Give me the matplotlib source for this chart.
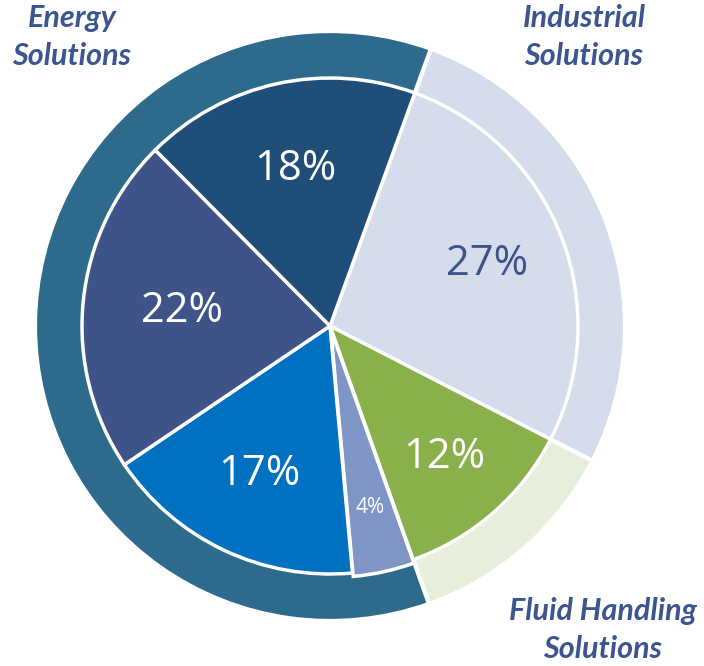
import numpy as np
import matplotlib.pyplot as plt

# inner pie: segment shares (%), clockwise from the top-right
inner_labels = ["27%", "12%", "4%", "17%", "22%", "18%"]
inner_values = [27, 12, 4, 17, 22, 18]
inner_colors = ["#D5DCEC", "#8AB04B", "#7F95C5", "#0070C0", "#3E5388", "#1F4E79"]
inner_text_colors = ["#3E5388", "white", "white", "white", "white", "white"]

# outer ring: business groups
outer_names = ["Industrial\nSolutions", "Fluid Handling\nSolutions", "Energy\nSolutions"]
outer_values = [27, 12, 61]
outer_colors = ["#D5DCEC", "#E5EFDB", "#2E6A8C"]

W, H = 704, 666
cx, cy = 330, 326          # pie centre in pixels
R_out = 295.0              # px
R_in = 248.0 / R_out

fig = plt.figure(figsize=(W / 100, H / 100), dpi=100)
ax = fig.add_axes([0, 0, 1, 1])

ax.pie(outer_values, radius=1.0, startangle=70, counterclock=False,
       colors=outer_colors,
       wedgeprops=dict(edgecolor="white", linewidth=3))

explode = [0, 0, 0.012, 0, 0, 0]
wedges, _ = ax.pie(inner_values, radius=R_in, startangle=70, counterclock=False,
                   colors=inner_colors, explode=explode,
                   wedgeprops=dict(edgecolor="white", linewidth=2.5))

# pie() resets the limits, so set them afterwards
ax.set_xlim(-cx / R_out, (W - cx) / R_out)
ax.set_ylim(-(H - cy) / R_out, cy / R_out)
ax.set_aspect("equal")
ax.axis("off")

# percentage labels
dists = [0.68, 0.70, 0.75, 0.66, 0.60, 0.65]
sizes = [30, 30, 15, 30, 30, 30]
for w, lab, tc, d, fs in zip(wedges, inner_labels, inner_text_colors, dists, sizes):
    ang = np.deg2rad((w.theta1 + w.theta2) / 2)
    ax.text(d * R_in * np.cos(ang), d * R_in * np.sin(ang), lab,
            ha="center", va="center", color=tc, fontsize=fs,
            family="Open Sans")

# group names
name_pos = [(584, 37), (603, 630), (72, 37)]
for name, (px, py) in zip(outer_names, name_pos):
    ax.text((px - cx) / R_out, (cy - py) / R_out, name, ha="center", va="center",
            fontsize=22, fontweight="bold", fontstyle="italic", color="#3B5591",
            family="Lato", linespacing=1.4)

fig.savefig("out.png", dpi=100)
